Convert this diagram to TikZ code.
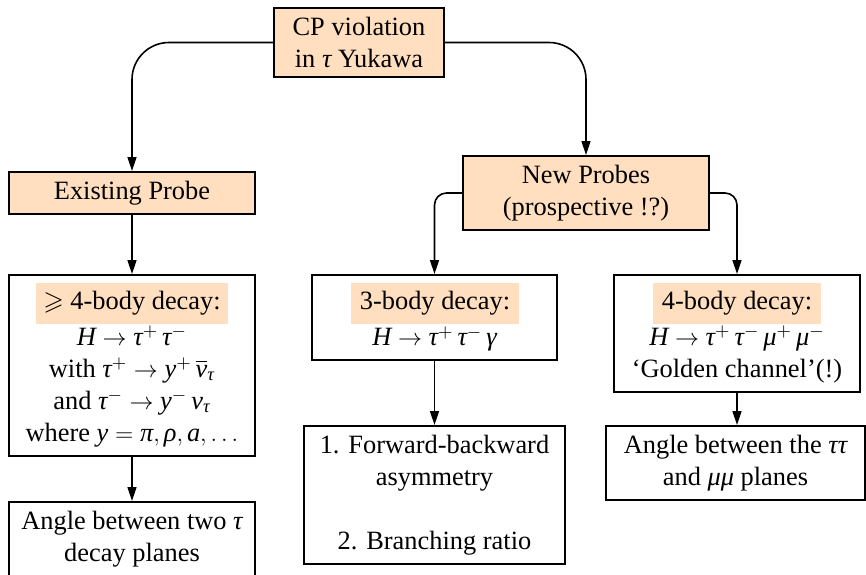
\documentclass[tikz,border=0pt]{standalone}
\usepackage{amssymb}
\usepackage{fontspec}
\setmainfont{Liberation Serif}
\newfontfamily\tmsfam{Liberation Serif}[NFSSFamily=libser]
\DeclareSymbolFont{lsit}{TU}{libser}{m}{it}
\Umathcode`H = 7 \symlsit `H
\Umathcode`y = 7 \symlsit `y
\Umathcode`a = 7 \symlsit `a
\Umathchardef\mytau = 0 \symlsit "03C4
\Umathchardef\mynu = 0 \symlsit "03BD
\Umathchardef\mypi = 0 \symlsit "03C0
\Umathchardef\myrho = 0 \symlsit "03C1
\Umathchardef\mymu = 0 \symlsit "03BC
\Umathchardef\mygamma = 0 \symlsit "03B3
\usetikzlibrary{arrows.meta}
\definecolor{peach}{RGB}{255,223,191}
\tikzset{
  every node/.style={font=\fontsize{13.2}{16}\selectfont, inner sep=0pt, align=center},
  box/.style={draw=black, line width=1pt, rectangle},
  fbox/.style={box, fill=peach},
  hl/.style={fill=peach, rectangle},
  conn/.style={line width=0.8pt, -{Triangle[length=7pt,width=4.5pt]}},
}
\begin{document}
\begin{tikzpicture}[x=0.5pt,y=-0.5pt]
\useasboundingbox (0,0) rectangle (866,574);
\clip (0,0) rectangle (866,574);
% boxes
\node[fbox, minimum width=85pt, minimum height=34.5pt] (top) at (359,42.5) {CP violation\\ in $\mytau$ Yukawa};
\node[fbox, minimum width=123pt, minimum height=21pt] (exist) at (132,193) {Existing Probe};
\node[fbox, minimum width=123pt, minimum height=37pt] (new) at (586,193) {New Probes\\ (prospective !?)};

\node[box, minimum width=123pt, minimum height=90.5pt] (lbox) at (132,365.5) {};
\node[hl, minimum width=96pt, minimum height=20.5pt] (lhl) at (132,303.5) {$\geqslant$ 4-body decay:};
\node (ltxt) at (132,386.5) {$H\to\mytau^+\,\mytau^-$\\ with $\mytau^+\to y^+\,\overline{\mynu}_\mytau$\\ and $\mytau^-\to y^-\,\mynu_\mytau$\\ where $y=\mypi,\myrho,a,\ldots$};

\node[box, minimum width=122.5pt, minimum height=42.5pt] (mid) at (434.5,317.5) {};
\node[hl, minimum width=84pt, minimum height=20.5pt] (mhl) at (435,303.5) {3-body decay:};
\node (mtxt) at (434.5,339) {$H\to\mytau^+\,\mytau^-\,\mygamma$};

\node[box, minimum width=123pt, minimum height=58.5pt] (rbox) at (737,333.5) {};
\node[hl, minimum width=84pt, minimum height=20.5pt] (rhl) at (737,303.5) {4-body decay:};
\node (rtxt) at (737,354.5) {$H\to\mytau^+\,\mytau^-\,\mymu^+\,\mymu^-$\\ `Golden channel'(!)};

\node[box, minimum width=123pt, minimum height=37pt] (lbot) at (132,539) {Angle between two $\mytau$\\ decay planes};
\node[box, minimum width=130.5pt, minimum height=69pt] (mbot) at (434.5,495) {1. Forward-backward\\ asymmetry\\[16pt] 2. Branching ratio};
\node[box, minimum width=129.5pt, minimum height=37pt] (rbot) at (735.5,463) {Angle between the $\mytau\mytau$\\ and $\mymu\mymu$ planes};

% connectors
\draw[conn, rounded corners=18.5pt] (top.west) -| (exist.north);
\draw[conn, rounded corners=18.5pt] (top.east) -| (new.north);
\draw[conn, rounded corners=6pt] (new.west) -| (mid.north);
\draw[conn, rounded corners=6pt] (new.east) -| (rbox.north);
\draw[conn] (exist.south) -- (lbox.north);
\draw[conn] (lbox.south) -- (lbot.north);
\draw[conn] (mid.south) -- (mbot.north);
\draw[conn] (rbox.south) -- (rbox.south |- rbot.north);
\end{tikzpicture}
\end{document}
